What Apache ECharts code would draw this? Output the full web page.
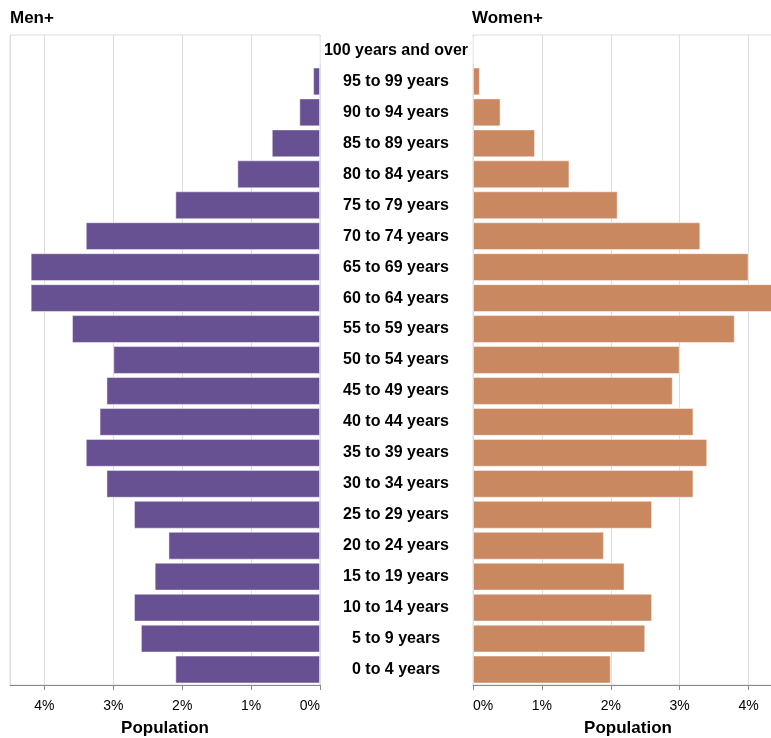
<!DOCTYPE html>
<html>
<head>
<meta charset="utf-8">
<script src="https://cdn.jsdelivr.net/npm/echarts@6/dist/echarts.min.js"></script>
<style>
html,body{margin:0;padding:0;background:#fff;overflow:hidden;}
#chart{width:800px;height:738px;}
</style>
</head>
<body>
<div id="chart"></div>
<script>
const ageGroups = ["100 years and over","95 to 99 years","90 to 94 years","85 to 89 years","80 to 84 years","75 to 79 years","70 to 74 years","65 to 69 years","60 to 64 years","55 to 59 years","50 to 54 years","45 to 49 years","40 to 44 years","35 to 39 years","30 to 34 years","25 to 29 years","20 to 24 years","15 to 19 years","10 to 14 years","5 to 9 years","0 to 4 years"];
const menValues = [0, 0.1, 0.3, 0.7, 1.2, 2.1, 3.4, 4.2, 4.2, 3.6, 3.0, 3.1, 3.2, 3.4, 3.1, 2.7, 2.2, 2.4, 2.7, 2.6, 2.1];
const womenValues = [0, 0.1, 0.4, 0.9, 1.4, 2.1, 3.3, 4.0, 4.4, 3.8, 3.0, 2.9, 3.2, 3.4, 3.2, 2.6, 1.9, 2.2, 2.6, 2.5, 2.0];
const panelTitles = ["Men+", "Women+"];
const axisTitle = "Population";

const FONT = "'Liberation Sans', Arial, sans-serif";
const chart = echarts.init(document.getElementById('chart'), null, {renderer:'canvas', width: 800, height: 738});

function xAxisFor(idx, inverse) {
  return {
    type: 'value', gridIndex: idx, min: 0, max: 4.5, interval: 1, inverse: inverse,
    name: axisTitle, nameLocation: 'middle', nameGap: 35,
    nameTextStyle: {fontFamily: FONT, fontWeight: 'bold', fontSize: 17, color: '#000'},
    axisLine: {show: true, lineStyle: {color: '#888', width: 1}},
    axisTick: {show: true, length: 5, lineStyle: {color: '#888'}},
    axisLabel: {
      fontFamily: FONT, fontSize: 14, color: '#000', margin: 14,
      formatter: v => (Math.abs(v - Math.round(v)) < 1e-9 ? Math.round(v) + '%' : ''),
      showMaxLabel: false,
      alignMinLabel: inverse ? 'right' : 'left'
    },
    splitLine: {show: true, lineStyle: {color: '#ddd', width: 1}}
  };
}

chart.setOption({
  animation: false,
  backgroundColor: '#fff',
  title: [
    {text: panelTitles[0], left: 5, top: 5, textStyle: {fontFamily: FONT, fontWeight: 'bold', fontSize: 17, color: '#000'}},
    {text: panelTitles[1], left: 467, top: 5, textStyle: {fontFamily: FONT, fontWeight: 'bold', fontSize: 17, color: '#000'}}
  ],
  grid: [
    {left: 10, top: 35, width: 310, height: 650, show: true, borderColor: '#ddd', borderWidth: 1, backgroundColor: 'transparent', containLabel: false, outerBoundsMode: 'none'},
    {left: 473, top: 35, width: 310, height: 650, show: true, borderColor: '#ddd', borderWidth: 1, backgroundColor: 'transparent', containLabel: false, outerBoundsMode: 'none'}
  ],
  xAxis: [xAxisFor(0, true), xAxisFor(1, false)],
  yAxis: [
    {type: 'category', gridIndex: 0, data: ageGroups, inverse: true,
     axisLine: {show: false}, axisTick: {show: false}, axisLabel: {show: false}, splitLine: {show: false}},
    {type: 'category', gridIndex: 1, data: ageGroups, inverse: true, position: 'left',
     axisLine: {show: false}, axisTick: {show: false}, splitLine: {show: false},
     axisLabel: {show: true, align: 'center', margin: 77, fontFamily: FONT, fontWeight: 'bold', fontSize: 16, color: '#000'}}
  ],
  series: [
    {type: 'bar', xAxisIndex: 0, yAxisIndex: 0, data: menValues, barCategoryGap: '10%',
     itemStyle: {color: '#675193', borderColor: 'rgba(255,255,255,0.45)', borderWidth: 1}},
    {type: 'bar', xAxisIndex: 1, yAxisIndex: 1, data: womenValues, barCategoryGap: '10%',
     itemStyle: {color: '#ca8861', borderColor: 'rgba(255,255,255,0.45)', borderWidth: 1}}
  ]
});
</script>
</body>
</html>
